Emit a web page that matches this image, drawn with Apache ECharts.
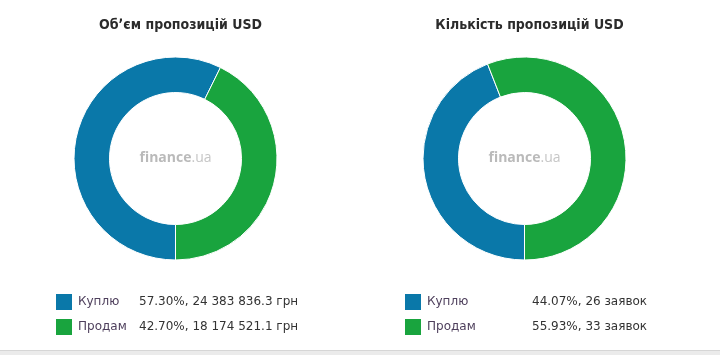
<!DOCTYPE html>
<html><head><meta charset="utf-8">
<script src="https://cdn.jsdelivr.net/npm/echarts@6/dist/echarts.min.js"></script>
<style>html,body{margin:0;padding:0;background:#fff;}#c{width:720px;height:355px;}
#bar{position:absolute;left:0;top:350px;width:720px;height:5px;background:#ebebeb;border-top:1px solid #d6d6d6;}</style>
</head><body><div id="c"></div><div id="bar"></div>
<script>
const categories = ['Куплю', 'Продам'];
const volumeValues = [24383836.3, 18174521.1];
const countValues = [26, 33];
const titles = ['Обʼєм пропозицій USD', 'Кількість пропозицій USD'];
const colors = ['#0a78a9', '#19a43e'];

function fmtNum(v) {
  const parts = v.toFixed(1).split('.');
  return parts[0].replace(/\B(?=(\d{3})+(?!\d))/g, ' ') + '.' + parts[1];
}
function pct(vals, i) {
  const s = vals.reduce((a, b) => a + b, 0);
  return (vals[i] / s * 100).toFixed(2) + '%';
}
function countWord(n) { return n + ' заявок'; }

const chart = echarts.init(document.getElementById('c'));
const centers = [[175.5, 158.5], [524.5, 158.5]];
const radius = [66, 101.5];

function pieSeries(vals, idx) {
  return {
    type: 'pie', center: centers[idx], radius: radius,
    startAngle: 270, clockwise: true, silent: true, animation: false,
    label: { show: false }, labelLine: { show: false },
    itemStyle: { borderColor: '#fff', borderWidth: 1 },
    data: categories.map((c, i) => ({ name: c, value: vals[i], itemStyle: { color: colors[i] } }))
  };
}
const richCommon = (nw) => ({
  n: { width: nw, fontFamily: 'DejaVu Sans', fontSize: 12, color: '#4e3f5c' },
  v: { fontFamily: 'DejaVu Sans', fontSize: 12, color: '#333' }
});

chart.setOption({
  animation: false,
  title: titles.map((t, i) => ({
    text: t, left: centers[i][0], top: 13, textAlign: 'center',
    textStyle: { fontFamily: 'DejaVu Sans Condensed', fontWeight: 'bold', fontSize: 14, color: '#2b2b2b' }
  })),
  legend: [
    {
      orient: 'vertical', left: 54, top: 292, padding: 0, itemWidth: 18, itemHeight: 18, itemGap: 5,
      icon: 'rect', selectedMode: false, data: categories,
      formatter: (name) => {
        const i = categories.indexOf(name);
        return '{n|' + name + '}{v|' + pct(volumeValues, i) + ', ' + fmtNum(volumeValues[i]) + ' грн}';
      },
      textStyle: { rich: richCommon(61) }
    },
    {
      orient: 'vertical', left: 403, top: 292, padding: 0, itemWidth: 18, itemHeight: 18, itemGap: 5,
      icon: 'rect', selectedMode: false, data: categories,
      formatter: (name) => {
        const i = categories.indexOf(name);
        return '{n|' + name + '}{v|' + pct(countValues, i) + ', ' + countWord(countValues[i]) + '}';
      },
      textStyle: { rich: richCommon(105) }
    }
  ],
  graphic: centers.map(c => ({
    type: 'text', x: c[0], y: c[1], silent: true,
    style: {
      text: '{a|finance}{b|.ua}', align: 'center', verticalAlign: 'middle',
      rich: {
        a: { fontFamily: 'Open Sans', fontWeight: 'bold', fontSize: 14, fill: '#bababa' },
        b: { fontFamily: 'Open Sans', fontSize: 14, fill: '#c6c6c6' }
      }
    }
  })),
  series: [pieSeries(volumeValues, 0), pieSeries(countValues, 1)]
});
</script>
</body></html>
